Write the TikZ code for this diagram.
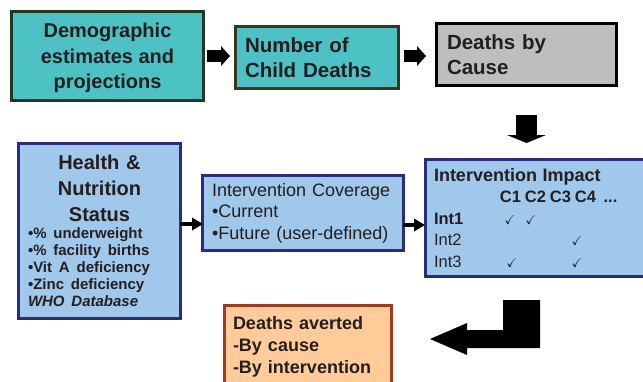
\documentclass[tikz,border=0pt]{standalone}
\usepackage{amssymb}
\usepackage{fontspec}
\setmainfont{Liberation Sans}
\usetikzlibrary{arrows.meta, positioning}
\definecolor{turquesa}{RGB}{77,194,196}
\definecolor{verdeosc}{RGB}{30,58,38}
\definecolor{oliva}{RGB}{55,55,32}
\definecolor{gris}{RGB}{190,190,190}
\definecolor{celeste}{RGB}{160,200,234}
\definecolor{marino}{RGB}{44,44,124}
\definecolor{salmon}{RGB}{255,204,153}
\definecolor{ladrillo}{RGB}{162,58,34}
\definecolor{tinta}{RGB}{35,31,32}
\newcommand{\celda}[1]{\makebox[25pt]{#1}}
\newcommand{\visto}{\makebox[0pt]{\fontsize{13}{13}\selectfont$\checkmark$}}
\tikzset{
  caja/.style={rectangle, draw, line width=3pt, text=tinta, align=left,
    font=\bfseries\fontsize{20.5}{25}\selectfont},
  cajaazul/.style={caja, draw=marino, fill=celeste},
  bloque/.style={line width=12pt, draw=black,
    -{Triangle[length=9pt, width=20pt, line width=0pt]}},
  bajada/.style={line width=21pt, draw=black,
    -{Triangle[length=8pt, width=39pt, line width=0pt]}},
  fina/.style={line width=4.5pt, draw=black,
    -{Triangle[length=11pt, width=13pt, line width=0pt]}}
}
\begin{document}
\begin{tikzpicture}[x=1pt, y=-1pt]
  \useasboundingbox (0,0) rectangle (643,381);
  \clip (0,0) rectangle (643,381);
  % fila de arriba
  \node[caja, draw=verdeosc, fill=turquesa, align=center,
    font=\bfseries\fontsize{20}{25.5}\selectfont,
    minimum width=192pt, minimum height=89pt] (demo) at (107.5,56)
    {\rule{0pt}{19pt}Demographic\\estimates and\\projections};
  \node[caja, draw=oliva, fill=turquesa, text width=144pt, inner xsep=9.5pt,
    minimum height=62pt] (num) at (317,57.5) {Number of\\Child Deaths};
  \node[caja, draw=black, fill=gris, text width=159pt, inner xsep=10.5pt,
    minimum height=62pt] (causa) at (526.5,54.5) {Deaths by\\Cause};
  \draw[bloque, shorten <=2pt, shorten >=4pt] (demo.east) -- (demo.east -| num.west);
  \draw[bloque, shorten <=4pt, shorten >=9pt] (num.east |- demo.east) -- (demo.east -| causa.west);
  % fila del medio
  \node[cajaazul, text width=143pt, inner xsep=9.5pt, minimum height=175pt]
    (salud) at (99.5,231)
    {{\centering\fontsize{20}{26}\selectfont Health \&\\Nutrition\\Status\par}
     \fontsize{15}{17}\selectfont
     •\% underweight\\•\% facility births\\•Vit A deficiency\\•Zinc deficiency\\
     \textit{WHO Database}\par};
  \node[cajaazul, text width=182pt, inner xsep=9.5pt, minimum height=75pt,
    font=\fontsize{18}{21.5}\selectfont] (cob) at (303,213)
    {Intervention Coverage\\•Current\\•Future (user-defined)};
  \node[cajaazul, text width=210pt, inner xsep=8.5pt, minimum height=117pt,
    font=\fontsize{16.5}{21.5}\selectfont] (impacto) at (539,218)
    {{\bfseries\fontsize{18}{21.5}\selectfont Intervention Impact}\\
     \textbf{\makebox[64pt][l]{}\celda{C1}\celda{C2}\celda{C3}\celda{C4}\celda{...}}\\
     \makebox[64pt][l]{\textbf{Int1}}\hspace{12pt}\visto\hspace{21pt}\visto\\
     \makebox[64pt][l]{Int2}\hspace{79pt}\visto\\
     \makebox[64pt][l]{Int3}\hspace{14pt}\visto\hspace{65pt}\visto};
  \coordinate (bajaA) at (526.5,115);
  \coordinate (bajaB) at (526.5,143);
  \draw[bajada] (bajaA) -- (bajaB);
  \draw[fina, shorten <=-2pt, shorten >=-2pt]
    ([yshift=7pt]salud.east) -- ([yshift=7pt]salud.east -| cob.west);
  \draw[fina, shorten <=-2pt, shorten >=-1pt]
    ([yshift=-12pt]cob.east) -- ([yshift=-12pt]cob.east -| impacto.west);
  % resultado
  \node[caja, draw=ladrillo, fill=salmon, anchor=north west, text width=150pt,
    inner xsep=8.5pt, inner ysep=11pt, font=\bfseries\fontsize{18}{22}\selectfont]
    (evitadas) at (223,304) {Deaths averted\\-By cause\\-By intervention};
  \fill[black] (503,300) -- (540,300) -- (540,348) -- (467,348) -- (467,355)
    -- (430,339) -- (467,323) -- (467,330) -- (503,330) -- cycle;
\end{tikzpicture}
\end{document}
